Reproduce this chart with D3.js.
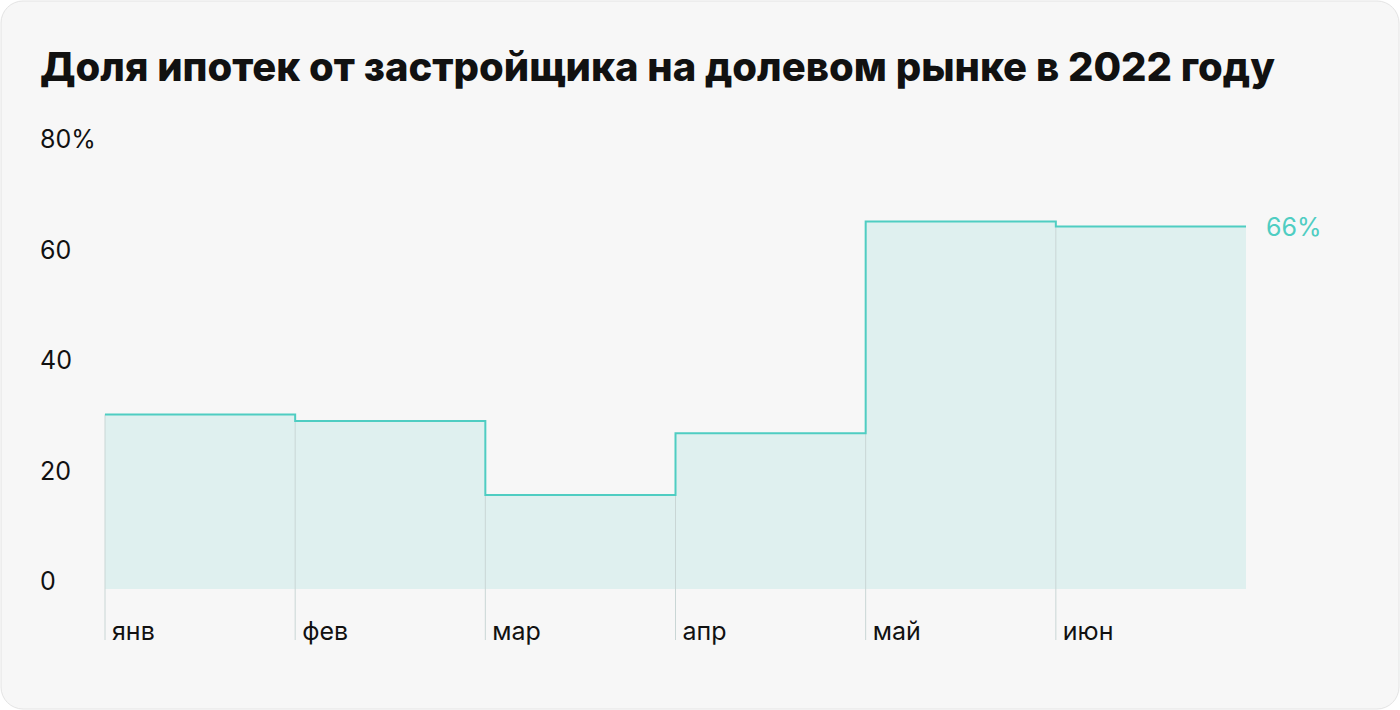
<!DOCTYPE html>
<html><head><meta charset="utf-8">
<script src="https://cdn.jsdelivr.net/npm/d3@7"></script>
<style>
body{margin:0;background:#fff;font-family:Inter,"Noto Sans",sans-serif;}
</style></head><body>
<script>
var months = ['янв', 'фев', 'мар', 'апр', 'май', 'июн'];
var shares = [31.6, 30.4, 17, 28.2, 66.5, 65.6];
var yTicks = [0, 20, 40, 60, 80];

var width = 1400, height = 710;
var svg = d3.select('body').append('svg').attr('width', width).attr('height', height);

svg.append('rect').attr('x', 1).attr('y', 1).attr('width', width - 2).attr('height', height - 2)
  .attr('rx', 22).attr('fill', '#f7f7f7').attr('stroke', '#e4e4e4');

svg.append('text').attr('x', 40).attr('y', 81).attr('font-size', 40).attr('font-weight', 800)
  .attr('fill', '#111').text('Доля ипотек от застройщика на долевом рынке в 2022 году');

var x = d3.scaleLinear().domain([0, months.length]).range([105, 1246]);
var y = d3.scaleLinear().domain([0, 80]).range([589, 147]);

// y tick labels
svg.selectAll('.ytick').data(yTicks).enter().append('text')
  .attr('x', 40).attr('y', function(d) { return y(d) + 1; })
  .attr('font-size', 25).attr('fill', '#111')
  .text(function(d) { return d === 80 ? '80%' : d; });

var steps = [];
shares.forEach(function(v, i) { steps.push([i, v]); steps.push([i + 1, v]); });

svg.append('path').datum(steps)
  .attr('fill', '#dff0ef')
  .attr('d', d3.area().x(function(d) { return x(d[0]); }).y0(y(0)).y1(function(d) { return y(d[1]); }));

// month separators
svg.selectAll('.sep').data(months).enter().append('line')
  .attr('x1', function(d, i) { return x(i); }).attr('x2', function(d, i) { return x(i); })
  .attr('y1', function(d, i) { return y(shares[i]); }).attr('y2', 640)
  .attr('stroke', '#c9d6d5').attr('stroke-width', 1);

var line = [];
shares.forEach(function(v, i) {
  if (i > 0) line.push([i, shares[i - 1]]);
  line.push([i, v]); line.push([i + 1, v]);
});
svg.append('path').datum(line)
  .attr('fill', 'none').attr('stroke', '#4fcdc2').attr('stroke-width', 2)
  .attr('d', d3.line().x(function(d) { return x(d[0]); }).y(function(d) { return y(d[1]); }));

svg.selectAll('.mlab').data(months).enter().append('text')
  .attr('x', function(d, i) { return x(i) + 7; }).attr('y', 640)
  .attr('font-size', 25).attr('fill', '#111').text(function(d) { return d; });

svg.append('text').attr('x', x(months.length) + 20).attr('y', y(shares[5]) + 9)
  .attr('font-size', 25).attr('fill', '#4fcdc2').text('66%');
</script>
</body></html>
